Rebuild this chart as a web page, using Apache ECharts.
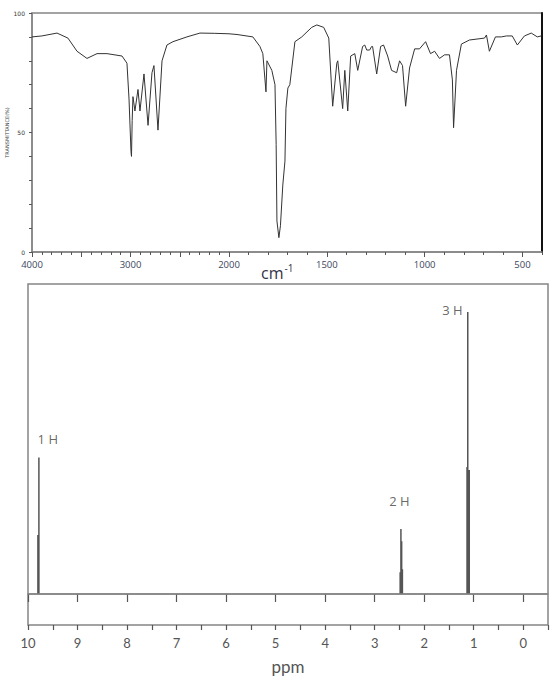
<!DOCTYPE html>
<html>
<head>
<meta charset="utf-8">
<title>IR and 1H NMR spectra</title>
<script src="https://cdn.jsdelivr.net/npm/echarts@6/dist/echarts.min.js"></script>
<style>
  html, body { margin: 0; padding: 0; background: #fff; }
  #main { width: 560px; height: 683px; }
</style>
</head>
<body>
<div id="main"></div>
<script>
// IR spectrum: wavenumber (cm-1) and transmittance (%)
var irWavenumber = [4000, 3900, 3746, 3635, 3543, 3442, 3340, 3239, 3086, 3036, 3015, 2995, 2990, 2983, 2975,
  2955, 2924, 2904, 2863, 2822, 2782, 2762, 2721, 2680, 2630, 2569, 2427, 2295, 2150, 2000,
  1959, 1878, 1842, 1827, 1811, 1806, 1781, 1765, 1759, 1755, 1745, 1737, 1725, 1714, 1709, 1699, 1689,
  1663, 1628, 1577, 1551, 1516, 1490, 1470, 1449, 1444, 1419, 1408, 1393, 1378, 1357, 1342, 1317,
  1306, 1296, 1281, 1271, 1266, 1245, 1225, 1210, 1189, 1169, 1143, 1128, 1113, 1097, 1077, 1051,
  1026, 995, 970, 949, 924, 898, 873, 858, 852, 837, 812, 771, 694, 684, 669, 638, 608, 582, 552,
  526, 490, 455, 424, 404];
var irTransmittance = [90, 90.4, 91.6, 89.5, 84, 81, 83, 83, 82, 79, 64, 42, 40, 55, 65,
  59, 68, 59, 74.5, 53, 75, 78, 51, 80, 86.6, 88, 90, 91.6, 91.5, 91.3,
  91, 90, 86, 83, 67, 80, 76, 70, 45, 13, 6, 11, 28, 38, 60, 68.6, 70,
  88, 90, 94, 95, 94, 89.5, 61, 79, 80, 60, 76, 59, 82, 83, 76, 86,
  86.6, 84.5, 84.5, 86, 86, 74.5, 86, 86.6, 82, 76, 75, 80, 78, 61, 77, 85,
  85, 88, 83, 84, 81, 82.5, 82.5, 72, 52, 76, 87, 88.7, 89.5, 90.8, 84, 90, 90, 90.4, 90.4,
  86.6, 90.4, 91.6, 90, 90.4];
var irBreak = 2000; // the scale is doubled below 2000 cm-1
var irHighLabels = [4000, 3000, 2000];
var irLowLabels = [1500, 1000, 500];
var irLowMajorTicks = [500, 1000, 1500, 2000];

// 1H NMR lines: shift (ppm) and relative height
var nmrShift = [9.80, 9.78, 2.485, 2.47, 2.455, 2.44, 1.135, 1.12, 1.10, 1.09];
var nmrHeight = [19, 44, 7, 21, 17, 8, 41, 91, 10, 40];
var nmrLabelText = ['1 H', '2 H', '3 H'];
var nmrLabelShift = [9.60, 2.50, 1.43];
var nmrLabelHeight = [50, 30, 91.5];
var nmrTickLabels = [0, 1, 2, 3, 4, 5, 6, 7, 8, 9, 10];

var irHigh = [], irLow = [];
irWavenumber.forEach(function (w, i) {
  if (w >= irBreak) irHigh.push([w, irTransmittance[i]]);
  if (w <= irBreak) irLow.push([w, irTransmittance[i]]);
});

var nmrLines = [];
nmrShift.forEach(function (s, i) {
  nmrLines.push([s, 0], [s, nmrHeight[i]], [s, '-']);
});
var nmrLabelData = nmrLabelText.map(function (t, i) {
  return { name: t, value: [nmrLabelShift[i], nmrLabelHeight[i]] };
});

var gray = '#858585';
var irLabelStyle = { color: '#3d4660', fontSize: 9.5, fontFamily: 'Open Sans', margin: 7 };
var IR_H = 239, NMR_H = 341;

var chart = echarts.init(document.getElementById('main'), null, { renderer: 'svg' });
chart.setOption({
  animation: false,
  title: {
    text: 'cm{sup|-1}', left: 256, top: 258,
    textStyle: {
      fontFamily: 'Open Sans', fontSize: 16, fontWeight: 'normal', color: '#333344',
      rich: { sup: { fontFamily: 'Open Sans', fontSize: 10, color: '#333344', padding: [0, 0, 9, 1] } }
    }
  },
  grid: [
    { left: 32, top: 13, width: 197, height: IR_H },
    { left: 229, top: 13, width: 313, height: IR_H },
    { left: 28, top: 284, right: 12, height: NMR_H, show: true, borderColor: gray, borderWidth: 1.5 },
    // frame round the whole IR plot
    { left: 32, top: 13, width: 510, height: IR_H, show: true, borderColor: gray, borderWidth: 1.5 }
  ],
  xAxis: [
    { // IR 4000-2000
      type: 'value', gridIndex: 0, min: 2000, max: 4000, interval: 500, inverse: true,
      axisLine: { lineStyle: { color: gray, width: 1.5 } },
      axisTick: { length: 5, lineStyle: { color: '#555' } },
      minorTick: { show: true, splitNumber: 5, length: 3, lineStyle: { color: '#555' } },
      splitLine: { show: false },
      axisLabel: Object.assign({ interval: 0, formatter: function (v) {
        return irHighLabels.indexOf(v) >= 0 ? String(v) : '';
      } }, irLabelStyle)
    },
    { // IR 2000-400, short ticks and labels
      type: 'value', gridIndex: 1, position: 'bottom', min: 400, max: 2000, interval: 100, inverse: true,
      axisLine: { lineStyle: { color: gray, width: 1.5 } },
      axisTick: { length: 3, lineStyle: { color: '#555' } },
      splitLine: { show: false },
      axisLabel: Object.assign({ interval: 0, formatter: function (v) {
        return irLowLabels.indexOf(v) >= 0 ? String(v) : '';
      } }, irLabelStyle)
    },
    { // long ticks every 500, moved down onto the bottom line
      type: 'value', gridIndex: 1, position: 'top', offset: -IR_H, min: 400, max: 2000, interval: 100, inverse: true,
      axisLine: { show: false },
      axisTick: { inside: true, length: 5, customValues: irLowMajorTicks, lineStyle: { color: '#555' } },
      axisLabel: { show: false }, splitLine: { show: false } },
    { // NMR, integer ticks and labels
      type: 'value', gridIndex: 2, position: 'bottom', min: -0.5, max: 10, interval: 0.5, inverse: true,
      name: 'ppm', nameLocation: 'middle', nameGap: 33,
      nameTextStyle: { fontFamily: 'Lato', fontSize: 17, color: '#555' },
      axisLine: { lineStyle: { color: gray, width: 1.5 } },
      axisTick: { length: 8, customValues: nmrTickLabels, lineStyle: { color: '#555', width: 1.2 } },
      splitLine: { show: false },
      axisLabel: { interval: 0, customValues: nmrTickLabels, margin: 11,
        fontFamily: 'Lato', fontSize: 13, color: '#555',
        formatter: function (v) { return nmrTickLabels.indexOf(v) >= 0 ? String(v) : ''; } }
    },
    { // NMR half ticks, moved down onto the bottom line
      type: 'value', gridIndex: 2, position: 'top', offset: -NMR_H, min: -0.5, max: 10, interval: 0.5, inverse: true,
      axisLine: { show: false },
      axisTick: { inside: true, length: 5, lineStyle: { color: '#555', width: 1.2 } },
      axisLabel: { show: false }, splitLine: { show: false } },
    { type: 'value', gridIndex: 3, min: 0, max: 1, show: false }
  ],
  yAxis: [
    { type: 'value', gridIndex: 0, min: 0, max: 100, interval: 10,
      name: 'TRANSMITTANCE(%)', nameLocation: 'middle', nameRotate: 90, nameGap: 19,
      nameTextStyle: { fontSize: 5, color: '#444', fontFamily: 'DejaVu Sans' },
      axisLine: { show: true, lineStyle: { color: gray, width: 1.5 } },
      axisTick: { show: true, length: 3, lineStyle: { color: '#555' } },
      splitLine: { show: false },
      axisLabel: { fontSize: 6, color: '#333', margin: 7, fontFamily: 'DejaVu Sans',
        formatter: function (v) { return v % 50 === 0 ? String(v) : ''; } }
    },
    { type: 'value', gridIndex: 1, min: 0, max: 100, position: 'right',
      axisLine: { show: true, lineStyle: { color: '#111', width: 2 } },
      axisTick: { show: false }, axisLabel: { show: false }, splitLine: { show: false } },
    { type: 'value', gridIndex: 2, min: -10, max: 100, show: false },
    { type: 'value', gridIndex: 3, min: 0, max: 1, show: false }
  ],
  series: [
    { type: 'line', xAxisIndex: 0, yAxisIndex: 0, data: irHigh, showSymbol: false, silent: true,
      lineStyle: { color: '#333', width: 1 } },
    { type: 'line', xAxisIndex: 1, yAxisIndex: 1, data: irLow, showSymbol: false, silent: true,
      lineStyle: { color: '#333', width: 1 } },
    { type: 'line', xAxisIndex: 3, yAxisIndex: 2, data: nmrLines, showSymbol: false, silent: true,
      connectNulls: false, lineStyle: { color: '#555', width: 1.5 },
      markLine: { silent: true, symbol: 'none', label: { show: false },
        lineStyle: { color: gray, width: 1.5, type: 'solid' }, data: [{ yAxis: 0 }] } },
    { type: 'scatter', xAxisIndex: 3, yAxisIndex: 2, data: nmrLabelData, symbolSize: 0, silent: true,
      label: { show: true, position: 'inside', formatter: '{b}',
        fontFamily: 'Open Sans', fontSize: 13, color: '#404040' } }
  ]
});
</script>
</body>
</html>
